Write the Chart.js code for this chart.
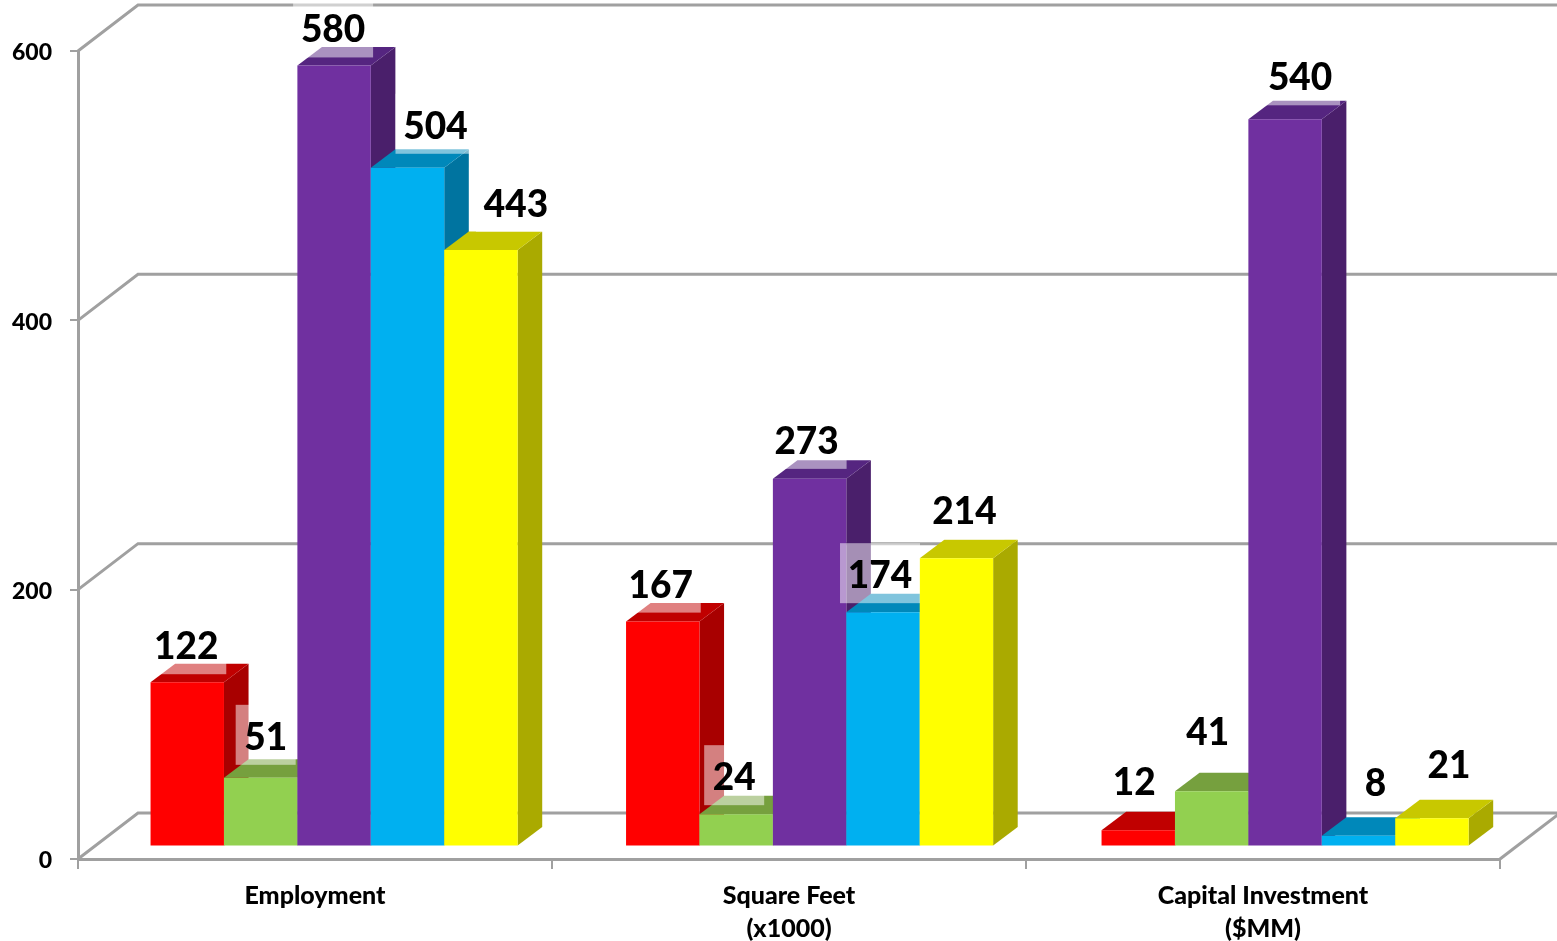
<!DOCTYPE html>
<html lang="en">
  <head>
    <meta charset="UTF-8" />
    <title>Employment, Square Feet and Capital Investment</title>
    <script src="https://cdn.jsdelivr.net/npm/chart.js"></script>
    <style>
      html, body { margin: 0; padding: 0; background: #fff; overflow: hidden; }
      canvas { display: block; }
    </style>
  </head>
  <body>
    <canvas id="chart" width="1557" height="941"></canvas>

    <script>
      // chart data
      const categories = ["Employment", ["Square Feet", "(x1000)"], ["Capital Investment", "($MM)"]];
      const tickValues = [0, 200, 400, 600];
      const redValues = [122, 167, 12];
      const greenValues = [51, 24, 41];
      const purpleValues = [580, 273, 540];
      const blueValues = [504, 174, 8];
      const yellowValues = [443, 214, 21];

      // front, side and top face colours of each bar series
      const redFaces = ["#ff0000", "#a80000", "#c00000"];
      const greenFaces = ["#92d050", "#6f9c3c", "#76a03e"];
      const purpleFaces = ["#7030a0", "#4a1f6b", "#552580"];
      const blueFaces = ["#00b0f0", "#0074a0", "#0088ba"];
      const yellowFaces = ["#ffff00", "#aaaa00", "#c8c800"];

      // hand placed data labels, relative to the front top middle of the bar
      const labelDx = [[-1, -2, -4], [5, -2, -4], [-1, -3, 15], [28, -3, 17], [35, 8, 17]];
      const labelDy = [[-36, -37, -48], [-41, -37, -59], [-36, -38, -42], [-42, -37, -53], [-46, -47, -53]];

      const GRID = "#a0a0a0";
      const WALL_DX = 60, WALL_DY = -46; // back wall offset
      const BAR_DX = 18.1, BAR_DY = -12.5, BAR_SCALE = 1.00316; // bars stand in the middle of the floor
      const DEPTH_DX = 24.5, DEPTH_DY = -18.5; // bar depth

      function poly(ctx, color, pts) {
        ctx.fillStyle = color;
        ctx.beginPath();
        pts.forEach((p, i) => (i ? ctx.lineTo(p[0], p[1]) : ctx.moveTo(p[0], p[1])));
        ctx.closePath();
        ctx.fill();
      }

      const box3d = {
        id: "box3d",
        beforeDatasetsDraw(chart) {
          const ctx = chart.ctx;
          const { x, y } = chart.scales;

          // walls and floor
          ctx.save();
          ctx.strokeStyle = GRID;
          ctx.lineWidth = 3;
          tickValues.forEach((v) => {
            const py = y.getPixelForValue(v);
            ctx.beginPath();
            ctx.moveTo(x.left, py);
            ctx.lineTo(x.left + WALL_DX, py + WALL_DY);
            ctx.lineTo(chart.width, py + WALL_DY);
            ctx.stroke();
          });
          const floorY = y.getPixelForValue(0);
          ctx.beginPath();
          ctx.moveTo(x.right, floorY);
          ctx.lineTo(x.right + WALL_DX, floorY + WALL_DY);
          ctx.stroke();
          ctx.restore();

          // bars left to right so each one covers the side of the one before
          ctx.save();
          ctx.translate(BAR_DX, BAR_DY);
          ctx.scale(BAR_SCALE, 1);
          chart.getSortedVisibleDatasetMetas().forEach((meta) => {
            const faces = chart.data.datasets[meta.index].faces;
            meta.data.forEach((bar) => {
              const { x: cx, y: top, base, width } = bar.getProps(["x", "y", "base", "width"]);
              const l = cx - width / 2, r = cx + width / 2;
              poly(ctx, faces[1], [[r, top], [r + DEPTH_DX, top + DEPTH_DY], [r + DEPTH_DX, base + DEPTH_DY], [r, base]]);
              poly(ctx, faces[2], [[l, top], [l + DEPTH_DX, top + DEPTH_DY], [r + DEPTH_DX, top + DEPTH_DY], [r, top]]);
            });
            meta.controller.draw();
          });
          ctx.restore();
          return false;
        },
        afterDraw(chart) {
          // translucent white label boxes, then the values
          const ctx = chart.ctx;
          ctx.save();
          ctx.font = "900 37px Lato";
          ctx.textAlign = "center";
          ctx.textBaseline = "middle";
          chart.getSortedVisibleDatasetMetas().forEach((meta) => {
            const values = chart.data.datasets[meta.index].data;
            meta.data.forEach((bar, i) => {
              const cx = bar.x * BAR_SCALE + BAR_DX + labelDx[meta.index][i];
              const cy = bar.y + BAR_DY + labelDy[meta.index][i];
              const text = String(values[i]);
              const w = 20 + 20 * text.length;
              ctx.fillStyle = "rgba(255,255,255,0.5)";
              ctx.fillRect(cx - w / 2, cy - 32, w, 60);
              ctx.fillStyle = "#000";
              ctx.fillText(text, cx, cy + 1);
            });
          });
          ctx.restore();
        },
      };

      const dataset = (data, faces) => ({
        data: data,
        faces: faces,
        backgroundColor: faces[0],
        borderWidth: 0,
        categoryPercentage: 0.772,
        barPercentage: 1,
      });

      new Chart(document.getElementById("chart"), {
        type: "bar",
        data: {
          labels: categories,
          datasets: [
            dataset(redValues, redFaces),
            dataset(greenValues, greenFaces),
            dataset(purpleValues, purpleFaces),
            dataset(blueValues, blueFaces),
            dataset(yellowValues, yellowFaces),
          ],
        },
        plugins: [box3d],
        options: {
          responsive: false,
          animation: false,
          layout: { padding: { top: 51, right: 57 } },
          plugins: { legend: { display: false }, tooltip: { enabled: false } },
          scales: {
            x: {
              afterFit: (scale) => { scale.height = 82; },
              border: { color: GRID, width: 3 },
              grid: { drawOnChartArea: false, color: GRID, lineWidth: 2, tickLength: 10 },
              ticks: {
                color: "#000",
                padding: 10,
                maxRotation: 0,
                font: { family: "Lato", weight: "900", size: 25, lineHeight: 1.32 },
              },
            },
            y: {
              min: 0,
              max: 600,
              afterFit: (scale) => { scale.width = 78; },
              afterBuildTicks: (scale) => { scale.ticks = tickValues.map((v) => ({ value: v })); },
              border: { color: GRID, width: 3 },
              grid: { drawOnChartArea: false, color: GRID, lineWidth: 2, tickLength: 8 },
              ticks: {
                color: "#000",
                padding: 18,
                labelOffset: 2,
                font: { family: "Lato", weight: "900", size: 23 },
              },
            },
          },
        },
      });
    </script>
  </body>
</html>
